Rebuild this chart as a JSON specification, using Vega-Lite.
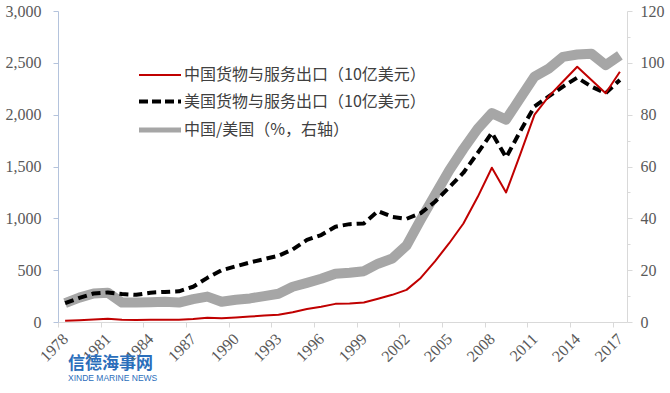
{
  "$schema": "https://vega.github.io/schema/vega-lite/v6.json",
  "width": 569,
  "height": 311,
  "autosize": {"type": "none"},
  "padding": {"left": 58, "top": 11, "right": 43, "bottom": 71},
  "background": "white",
  "config": {"view": {"stroke": null}},
  "title": {"text": "信德海事网", "subtitle": "XINDE MARINE NEWS", "orient": "bottom", "anchor": "start", "dx": 63, "offset": -8, "font": "Noto Sans CJK SC", "fontSize": 17, "fontWeight": "bold", "color": "#2A6EBB", "subtitleFont": "Liberation Sans", "subtitleFontSize": 8.5, "subtitleColor": "#2A6EBB", "subtitlePadding": 1},
  "data": {"values": [
    {"year": 1978, "cn": 12, "us": 182, "ratio": 7.3},
    {"year": 1979, "cn": 18, "us": 232, "ratio": 9.4},
    {"year": 1980, "cn": 25, "us": 275, "ratio": 11.0},
    {"year": 1981, "cn": 32, "us": 285, "ratio": 11.3},
    {"year": 1982, "cn": 21, "us": 270, "ratio": 7.5},
    {"year": 1983, "cn": 20, "us": 262, "ratio": 7.5},
    {"year": 1984, "cn": 21, "us": 283, "ratio": 7.6},
    {"year": 1985, "cn": 22, "us": 290, "ratio": 7.8},
    {"year": 1986, "cn": 22, "us": 296, "ratio": 7.5},
    {"year": 1987, "cn": 28, "us": 340, "ratio": 8.8},
    {"year": 1988, "cn": 40, "us": 426, "ratio": 9.8},
    {"year": 1989, "cn": 37, "us": 499, "ratio": 7.8},
    {"year": 1990, "cn": 44, "us": 537, "ratio": 8.6},
    {"year": 1991, "cn": 52, "us": 575, "ratio": 9.1},
    {"year": 1992, "cn": 62, "us": 607, "ratio": 10.0},
    {"year": 1993, "cn": 70, "us": 639, "ratio": 10.9},
    {"year": 1994, "cn": 95, "us": 700, "ratio": 13.6},
    {"year": 1995, "cn": 125, "us": 792, "ratio": 15.1},
    {"year": 1996, "cn": 148, "us": 839, "ratio": 16.7},
    {"year": 1997, "cn": 175, "us": 919, "ratio": 18.6},
    {"year": 1998, "cn": 178, "us": 944, "ratio": 19.0},
    {"year": 1999, "cn": 188, "us": 951, "ratio": 19.6},
    {"year": 2000, "cn": 225, "us": 1070, "ratio": 22.5},
    {"year": 2001, "cn": 262, "us": 1014, "ratio": 24.5},
    {"year": 2002, "cn": 310, "us": 995, "ratio": 29.5},
    {"year": 2003, "cn": 425, "us": 1050, "ratio": 39.5},
    {"year": 2004, "cn": 585, "us": 1160, "ratio": 49.0},
    {"year": 2005, "cn": 760, "us": 1300, "ratio": 58.5},
    {"year": 2006, "cn": 950, "us": 1440, "ratio": 66.8},
    {"year": 2007, "cn": 1205, "us": 1630, "ratio": 74.5},
    {"year": 2008, "cn": 1488, "us": 1825, "ratio": 80.6},
    {"year": 2009, "cn": 1250, "us": 1587, "ratio": 78.1},
    {"year": 2010, "cn": 1620, "us": 1841, "ratio": 86.4},
    {"year": 2011, "cn": 2000, "us": 2080, "ratio": 94.7},
    {"year": 2012, "cn": 2176, "us": 2176, "ratio": 97.8},
    {"year": 2013, "cn": 2320, "us": 2271, "ratio": 102.3},
    {"year": 2014, "cn": 2462, "us": 2357, "ratio": 103.2},
    {"year": 2015, "cn": 2335, "us": 2271, "ratio": 103.5},
    {"year": 2016, "cn": 2207, "us": 2207, "ratio": 99.1},
    {"year": 2017, "cn": 2414, "us": 2335, "ratio": 102.9}
  ]},
  "layer": [
    {
      "mark": {"type": "line", "strokeWidth": 10, "strokeJoin": "round", "strokeCap": "butt"},
      "encoding": {
        "x": {"field": "year", "type": "quantitative", "scale": {"domain": [1977.5, 2017.5], "nice": false, "zero": false},
          "axis": {"values": [1978, 1981, 1984, 1987, 1990, 1993, 1996, 1999, 2002, 2005, 2008, 2011, 2014, 2017], "format": "d", "labelAngle": -45, "labelAlign": "right", "labelBaseline": "middle", "tickOffset": -7.1, "labelOffset": 7.1, "tickSize": 5, "domainColor": "#D9D9D9", "tickColor": "#D9D9D9", "labelFont": "Liberation Serif", "labelFontSize": 16, "labelColor": "#595959", "grid": false, "title": null, "labelPadding": 9}},
        "y": {"field": "ratio", "type": "quantitative", "scale": {"domain": [0, 120], "nice": false},
          "axis": {"orient": "right", "values": [0, 10, 20, 30, 40, 50, 60, 70, 80, 90, 100, 110, 120], "format": ".0f", "labelExpr": "datum.value % 20 === 0 ? datum.label : ''", "tickSize": {"condition": {"test": "datum.value % 20 === 0", "value": 5}, "value": 3}, "grid": false, "domainColor": "#D9D9D9", "tickColor": "#D9D9D9", "labelFont": "Liberation Serif", "labelFontSize": 16, "labelColor": "#595959", "labelPadding": 8, "title": null}},
        "color": {"datum": "中国/美国（%，右轴）", "type": "nominal",
          "scale": {"domain": ["中国货物与服务出口（10亿美元）", "美国货物与服务出口（10亿美元）", "中国/美国（%，右轴）"], "range": ["#C00000", "#000000", "#A6A6A6"]},
          "legend": {"orient": "none", "legendX": 94, "legendY": 56, "title": null, "symbolType": "stroke", "symbolSize": 1764, "labelFont": "Noto Sans CJK SC", "labelFontSize": 16, "labelColor": "#404040", "rowPadding": 10.5, "labelLimit": 400, "labelOffset": 16,
            "encode": {"symbols": {"update": {
              "strokeDash": {"signal": "datum.value === '美国货物与服务出口（10亿美元）' ? [9, 4] : [1, 0]"},
              "strokeWidth": {"signal": "datum.value === '中国/美国（%，右轴）' ? 5 : (datum.value === '美国货物与服务出口（10亿美元）' ? 4 : 2)"}
            }}}}}
      }
    },
    {
      "layer": [
        {
          "mark": {"type": "line", "strokeWidth": 4, "strokeDash": [9, 5], "strokeJoin": "round"},
          "encoding": {
            "x": {"field": "year", "type": "quantitative", "scale": {"domain": [1977.5, 2017.5], "nice": false, "zero": false}},
            "y": {"field": "us", "type": "quantitative", "scale": {"domain": [0, 3000], "nice": false},
              "axis": {"values": [0, 500, 1000, 1500, 2000, 2500, 3000], "format": ",.0f", "grid": false, "domainColor": "#B4C3DC", "tickColor": "#B4C3DC", "tickSize": 5, "labelFont": "Liberation Serif", "labelFontSize": 16, "labelColor": "#595959", "labelPadding": 12, "title": null}},
            "color": {"datum": "美国货物与服务出口（10亿美元）", "type": "nominal"}
          }
        },
        {
          "mark": {"type": "line", "strokeWidth": 2, "strokeJoin": "round"},
          "encoding": {
            "x": {"field": "year", "type": "quantitative"},
            "y": {"field": "cn", "type": "quantitative"},
            "color": {"datum": "中国货物与服务出口（10亿美元）", "type": "nominal"}
          }
        }
      ]
    }
  ],
  "resolve": {"scale": {"y": "independent"}}
}
